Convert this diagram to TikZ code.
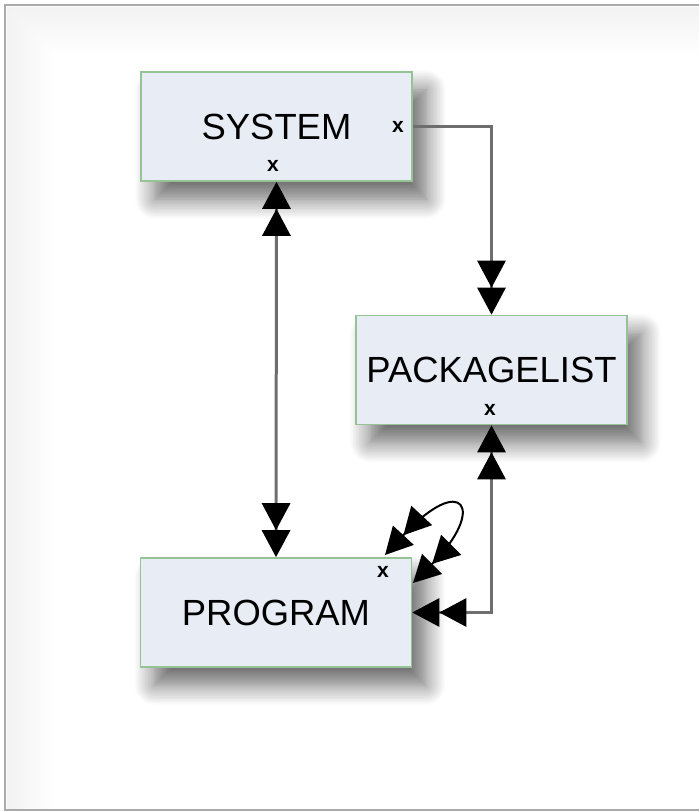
\documentclass[tikz,border=0pt]{standalone}
\usepackage{fontspec}
\setmainfont{Liberation Sans}
\usetikzlibrary{arrows.meta,shadows.blur}

\definecolor{boxfill}{RGB}{232,236,245}
\definecolor{boxline}{RGB}{150,195,150}
\definecolor{linegray}{RGB}{110,110,110}
\definecolor{framegray}{RGB}{170,170,170}

\tikzset{
  dbl/.tip={Triangle[length=13.5pt,width=14pt,color=black]Triangle[length=13.5pt,width=14pt,color=black]},
  box/.style={draw=boxline, line width=0.8pt, fill=boxfill,
    minimum width=135.5pt, minimum height=54.5pt, inner sep=0pt,
    font=\fontsize{18.2}{20}\selectfont,
    blur shadow={shadow xshift=7pt, shadow yshift=-9pt,
      shadow blur radius=10pt, shadow blur steps=14, shadow opacity=60}},
  xmark/.style={font=\fontsize{10.5}{11}\selectfont\bfseries, inner sep=0pt},
  conn/.style={draw=linegray, line width=1.5pt},
  selfconn/.style={draw=black, line width=1pt},
  glow/.style={fill=black, opacity=0.004},
}

\begin{document}
\begin{tikzpicture}[x=0.5pt, y=-0.5pt]
    \useasboundingbox (0,0) rectangle (699,812);

    % 外框
    \foreach \i in {4,8,...,48} {
        \fill[glow] (7,7) rectangle (699,7+\i);
        \fill[glow] (7,7+\i) rectangle (7+\i,809);
    }
    \draw[framegray, line width=1.2pt] (699,5) -- (5,5) -- (5,810) -- (699,810);

    % 方框
    \node[box] (sys) at (276.5,126.5) {SYSTEM};
    \node[box] (pkg) at (491.5,370) {PACKAGELIST};
    \node[box] (prog) at (276,612.5) {PROGRAM};

    % 小 x
    \node[xmark] (sysr) at (398,127) {x};
    \node[xmark] (sysb) at (273,166) {x};
    \node[xmark] (pkgb) at (490,410) {x};
    \node[xmark] (progx) at (383,572) {x};

    % 自环端点
    \coordinate (loopa) at (385,555);
    \coordinate (loopb) at (413,583);

    % 连线
    \draw[conn, -{dbl}] (sys.east) -| (pkg.north);
    \draw[conn, {dbl}-{dbl}] (sys.south) -- (prog.north);
    \draw[conn, {dbl}-{dbl}] (pkg.south) |- (prog.east);
    \draw[selfconn, {dbl}-{dbl}] (loopa) .. controls +(78,-84) and +(74,-74) .. (loopb);

\end{tikzpicture}
\end{document}
